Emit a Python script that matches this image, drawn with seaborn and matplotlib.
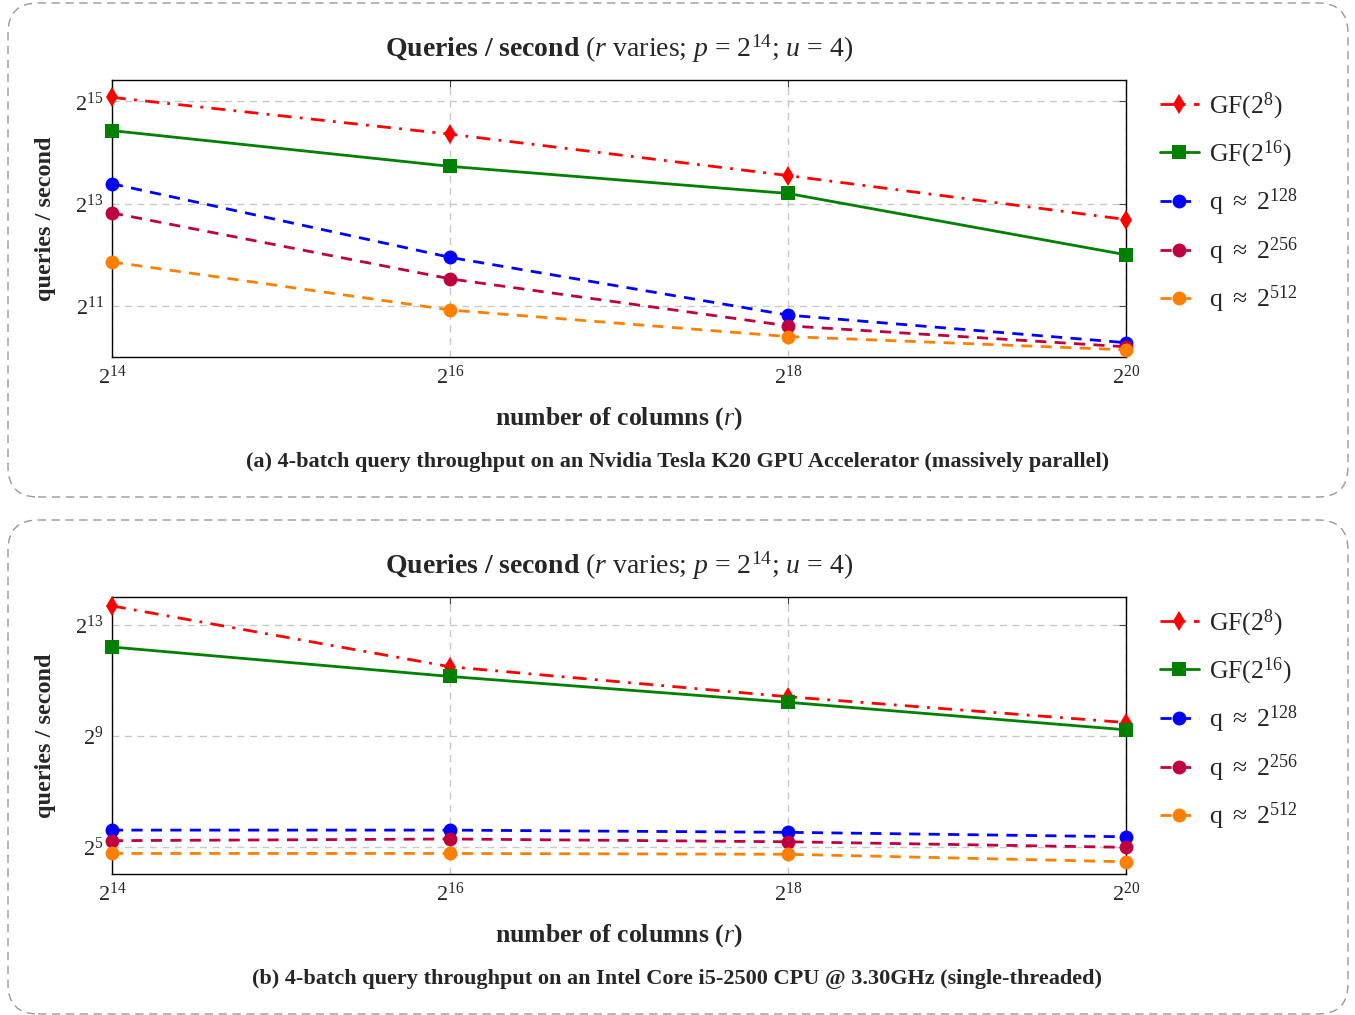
"""Query throughput (queries/second) vs. number of columns r, GPU and CPU."""

import numpy as np
import pandas as pd
import matplotlib.pyplot as plt
import seaborn as sns
from matplotlib.patches import FancyBboxPatch

# x: number of columns r, as powers of two
col_exp = [14, 16, 18, 20]

series_names = ['GF8', 'GF16', 'q128', 'q256', 'q512']
legend_labels = [
    r'GF(2$^{8}$)',
    r'GF(2$^{16}$)',
    r'q $\approx$ 2$^{128}$',
    r'q $\approx$ 2$^{256}$',
    r'q $\approx$ 2$^{512}$',
]

# log2(queries/second)
gpu_gf8 = [15.08, 14.36, 13.55, 12.69]
gpu_gf16 = [14.43, 13.73, 13.20, 12.00]
gpu_q128 = [13.39, 11.95, 10.82, 10.28]
gpu_q256 = [12.82, 11.53, 10.61, 10.20]
gpu_q512 = [11.86, 10.92, 10.40, 10.14]

cpu_gf8 = [13.68, 11.49, 10.41, 9.48]
cpu_gf16 = [12.20, 11.14, 10.21, 9.22]
cpu_q128 = [5.61, 5.61, 5.53, 5.37]
cpu_q256 = [5.23, 5.29, 5.19, 4.99]
cpu_q512 = [4.77, 4.77, 4.74, 4.47]

gpu_ticks = [11, 13, 15]
cpu_ticks = [5, 9, 13]

captions = [
    '(a) 4-batch query throughput on an Nvidia Tesla K20 GPU Accelerator (massively parallel)',
    '(b) 4-batch query throughput on an Intel Core i5-2500 CPU @ 3.30GHz (single-threaded)',
]

# line look per series
colors = ['#ff0000', '#008000', '#0000ff', '#bf0040', '#ff8000']
markers = ['d', 's', 'o', 'o', 'o']
msizes = [10, 10.5, 10, 10, 10]
lstyles = [(0, (5, 3, 1, 3)), '-', (0, (4, 3)), (0, (4, 3)), (0, (4, 3))]


def make_frame(values):
    rows = []
    for name, vals in zip(series_names, values):
        for e, v in zip(col_exp, vals):
            rows.append({'series': name, 'r': 2.0 ** e, 'qps': 2.0 ** v})
    return pd.DataFrame(rows)


gpu_df = make_frame([gpu_gf8, gpu_gf16, gpu_q128, gpu_q256, gpu_q512])
cpu_df = make_frame([cpu_gf8, cpu_gf16, cpu_q128, cpu_q256, cpu_q512])

sns.set_theme(style='white')
plt.rcParams['font.family'] = ['Liberation Serif', 'DejaVu Serif']
plt.rcParams['mathtext.fontset'] = 'custom'
plt.rcParams['mathtext.rm'] = 'Liberation Serif'
plt.rcParams['mathtext.it'] = 'Liberation Serif:italic'
plt.rcParams['mathtext.bf'] = 'Liberation Serif:bold'

fig = plt.figure(figsize=(13.55, 10.15), dpi=100)
W, H = 1355, 1015

# axes boxes in pixels: left, top, right, bottom
panels = [
    (gpu_df, (112, 80, 1126, 357), (10.0, 15.42), gpu_ticks, 0),
    (cpu_df, (112, 597, 1126, 874), (4.03, 14.0), cpu_ticks, 517),
]

for k, (df, box, ylim, yticks, off) in enumerate(panels):
    l, t, r, b = box
    ax = fig.add_axes([l / W, 1 - b / H, (r - l) / W, (b - t) / H])

    for i, name in enumerate(series_names):
        sns.lineplot(
            data=df[df['series'] == name], x='r', y='qps', ax=ax,
            color=colors[i], marker=markers[i], markersize=msizes[i],
            markeredgewidth=0, linestyle=lstyles[i], linewidth=2,
            label=legend_labels[i], clip_on=False, zorder=3,
        )

    ax.set_xscale('log', base=2)
    ax.set_yscale('log', base=2)
    ax.set_xlim(2.0 ** 14, 2.0 ** 20)
    ax.set_ylim(2.0 ** ylim[0], 2.0 ** ylim[1])
    ax.set_xticks([2.0 ** e for e in col_exp])
    ax.set_xticklabels([f'$2^{{{e}}}$' for e in col_exp], fontsize=16)
    ax.set_yticks([2.0 ** e for e in yticks])
    ax.set_yticklabels([f'$2^{{{e}}}$' for e in yticks], fontsize=16)
    ax.minorticks_off()
    ax.tick_params(direction='in', top=True, right=True, length=5,
                   width=0.8, color='#444444', pad=6)
    ax.grid(True, linestyle=(0, (5, 4)), color='#c8c8c8', linewidth=1)
    for sp in ax.spines.values():
        sp.set_color('black')
        sp.set_linewidth(1)

    ax.set_xlabel(r'number of columns ($\mathit{r}$)', fontsize=18.5,
                  fontweight='bold', labelpad=12)
    ax.set_ylabel('queries / second', fontsize=17.5, fontweight='bold',
                  labelpad=14)
    ax.set_title(r'$\mathbf{Queries\ /\ second}$ ($r$ varies; $p$ = 2$^{14}$; $u$ = 4)',
                 fontsize=20, pad=17)

    ax.legend(loc='upper left', bbox_to_anchor=(1.016, 1.028), frameon=False,
              fontsize=18.5, handlelength=1.5, handletextpad=0.4,
              labelspacing=0.66, borderaxespad=0.3)

    fig.text(0.5, 1 - (462 + off) / H, captions[k], ha='center', va='center',
             fontsize=16, fontweight='bold')

    # rounded dashed frame around the subfigure (in inches)
    y0 = (H - (497 + off)) / 100
    frame = FancyBboxPatch(
        (0.08, y0), 13.40, 4.94,
        boxstyle='round,pad=0,rounding_size=0.3',
        transform=fig.dpi_scale_trans, fill=False,
        edgecolor='#999999', linewidth=1, linestyle=(0, (6, 4)),
    )
    fig.add_artist(frame)

plt.savefig('out.png', dpi=100)
